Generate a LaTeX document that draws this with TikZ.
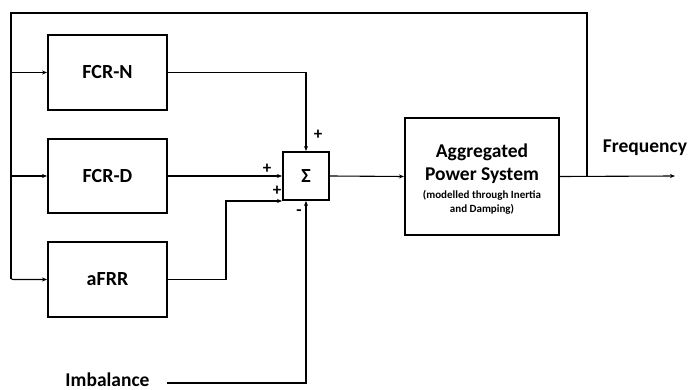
\documentclass[tikz,border=0pt]{standalone}
\usepackage{fontspec}
\setmainfont{Carlito}
\usetikzlibrary{arrows.meta}
\begin{document}
\begin{tikzpicture}[x=1pt,y=-1pt,
  blk/.style={draw,line width=2pt,inner sep=0pt,font=\fontsize{20}{23}\selectfont\bfseries,align=center},
  conn/.style={line width=1.1pt},
  arr/.style={line width=1.1pt,-{Stealth[length=5pt,width=4pt]}},
  lbl/.style={font=\fontsize{19.5}{22}\selectfont\bfseries,inner sep=0pt},
  sgn/.style={font=\fontsize{17}{19}\selectfont\bfseries,inner sep=0pt}]
\useasboundingbox (0,0) rectangle (689,390);
\node[blk,minimum width=119pt,minimum height=75pt] (fcrn) at (107.5,72.5) {FCR-N};
\node[blk,minimum width=119pt,minimum height=74pt] (fcrd) at (107.5,176) {FCR-D};
\node[blk,minimum width=119pt,minimum height=75pt] (afrr) at (107.5,279.5) {aFRR};
\node[blk,minimum width=46pt,minimum height=48pt,font=\fontsize{20}{23}\selectfont\bfseries] (sum) at (306,176) {Σ};
\node[blk,minimum width=154pt,minimum height=117pt] (aps) at (482,176.5) {};
\node[lbl] (t1) at (482,152) {Aggregated};
\node[lbl] (t2) at (482,176) {Power System};
\node[font=\fontsize{11}{13}\selectfont\bfseries,inner sep=0pt] (t3) at (482,195) {(modelled through Inertia};
\node[font=\fontsize{11}{13}\selectfont\bfseries,inner sep=0pt] (t4) at (482,209.5) {and Damping)};
\node[lbl] (freq) at (645,148) {Frequency};
\node[lbl] (imb) at (107.5,379.5) {Imbalance};
\coordinate (tap) at (587,176);
\coordinate (out) at (675,176);
\coordinate (tr) at (587,13);
\coordinate (tl) at (11,13);
\coordinate (bl) at (11,279.5);
\coordinate (imbs) at (167,383);
\coordinate (afk) at (226,279.5);
% signs
\node[sgn] (p1) at (318,135) {+};
\node[sgn] (p2) at (267,168.5) {+};
\node[sgn] (p3) at (277,191) {+};
\node[sgn] (m1) at (299,213) {-};
% connectors
\draw[arr] (sum.east) -- (aps.west);
\draw[arr] (aps.east) -- (out);
\draw[conn] (tap) -- (tr) -- (tl) -- (bl);
\draw[arr,rounded corners=2pt] (tl) -- (bl) -- (afrr.west);
\draw[arr] (11,72.5) -- (fcrn.west);
\draw[arr] (11,176) -- (fcrd.west);
\draw[arr] (fcrn.east) -| (sum.north);
\draw[arr] (fcrd.east) -- (sum.west);
\draw[arr] (afrr.east) -- (afk) |- (sum.south west);
\draw[arr] (imbs) -| (sum.south);
\end{tikzpicture}
\end{document}
